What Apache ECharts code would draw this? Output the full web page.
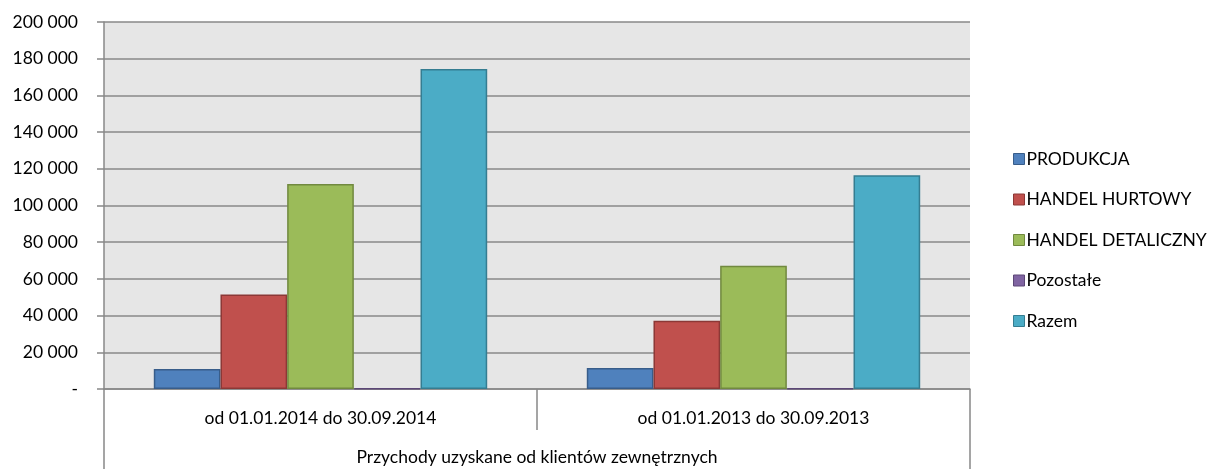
<!DOCTYPE html>
<html>
<head>
<meta charset="utf-8">
<script src="https://cdn.jsdelivr.net/npm/echarts@6/dist/echarts.min.js"></script>
<style>
  html, body { margin: 0; padding: 0; background: #fff; }
  #chart { width: 1212px; height: 469px; }
</style>
</head>
<body>
<div id="chart"></div>
<script>
const periods = ["od 01.01.2014 do 30.09.2014", "od 01.01.2013 do 30.09.2013"];
const groupLabel = ["Przychody uzyskane od klientów zewnętrznych"];
const produkcja = [10900, 11500];
const handelHurtowy = [51500, 37200];
const handelDetaliczny = [111700, 67200];
const pozostale = [400, 400];
const razem = [174400, 116500];

const seriesDefs = [
  ["PRODUKCJA", produkcja, "#4F81BD", "#385D8A"],
  ["HANDEL HURTOWY", handelHurtowy, "#C0504D", "#8C3836"],
  ["HANDEL DETALICZNY", handelDetaliczny, "#9BBB59", "#71893F"],
  ["Pozostałe", pozostale, "#8064A2", "#5C4776"],
  ["Razem", razem, "#4BACC6", "#357D91"],
];

const font = "Lato, 'Open Sans', sans-serif";
const fs = 17.5;
const grey = "#888888";

const chart = echarts.init(document.getElementById("chart"));
chart.setOption({
  animation: false,
  textStyle: { fontFamily: font },
  grid: {
    left: 104, right: 242, top: 22, bottom: 80,
    show: true, backgroundColor: "#E6E6E6", borderWidth: 0,
  },
  legend: {
    orient: "vertical",
    left: 1008,
    top: 145,
    itemWidth: 11,
    itemHeight: 11,
    itemGap: 22.5,
    itemStyle: { borderWidth: 1 },
    textStyle: { fontSize: fs, color: "#000", fontFamily: font, padding: [0, 0, 0, -3] },
    data: seriesDefs.map(d => ({ name: d[0], icon: "rect" })),
  },
  xAxis: [
    {
      type: "category",
      data: periods,
      position: "bottom",
      axisLine: { show: true, lineStyle: { color: grey, width: 1.5 } },
      axisTick: { show: true, interval: 0, length: 41, lineStyle: { color: grey, width: 1.5 } },
      axisLabel: { margin: 20, fontSize: fs, color: "#000", fontFamily: font, interval: 0 },
    },
    {
      type: "category",
      data: groupLabel,
      position: "bottom",
      axisLine: { show: false },
      axisTick: { show: true, interval: 0, length: 80, lineStyle: { color: grey, width: 1.5 } },
      axisLabel: { margin: 59, fontSize: fs, color: "#000", fontFamily: font },
    },
  ],
  yAxis: {
    type: "value",
    min: 0,
    max: 200000,
    interval: 20000,
    axisLine: { show: true, lineStyle: { color: grey, width: 1.5 } },
    axisTick: { show: true, length: 7, lineStyle: { color: grey, width: 1.5 } },
    splitLine: { show: true, lineStyle: { color: grey, width: 1.5 } },
    axisLabel: {
      margin: 26,
      fontSize: fs,
      color: "#000",
      fontFamily: font,
      formatter: v => v === 0 ? "-" : String(v).replace(/\B(?=(\d{3})+(?!\d))/g, " "),
    },
  },
  series: seriesDefs.map(([name, values, color, border]) => ({
    name,
    type: "bar",
    data: values,
    barGap: "0%",
    barCategoryGap: "23%",
    itemStyle: { color, borderColor: border, borderWidth: 1.5 },
  })),
});
</script>
</body>
</html>
